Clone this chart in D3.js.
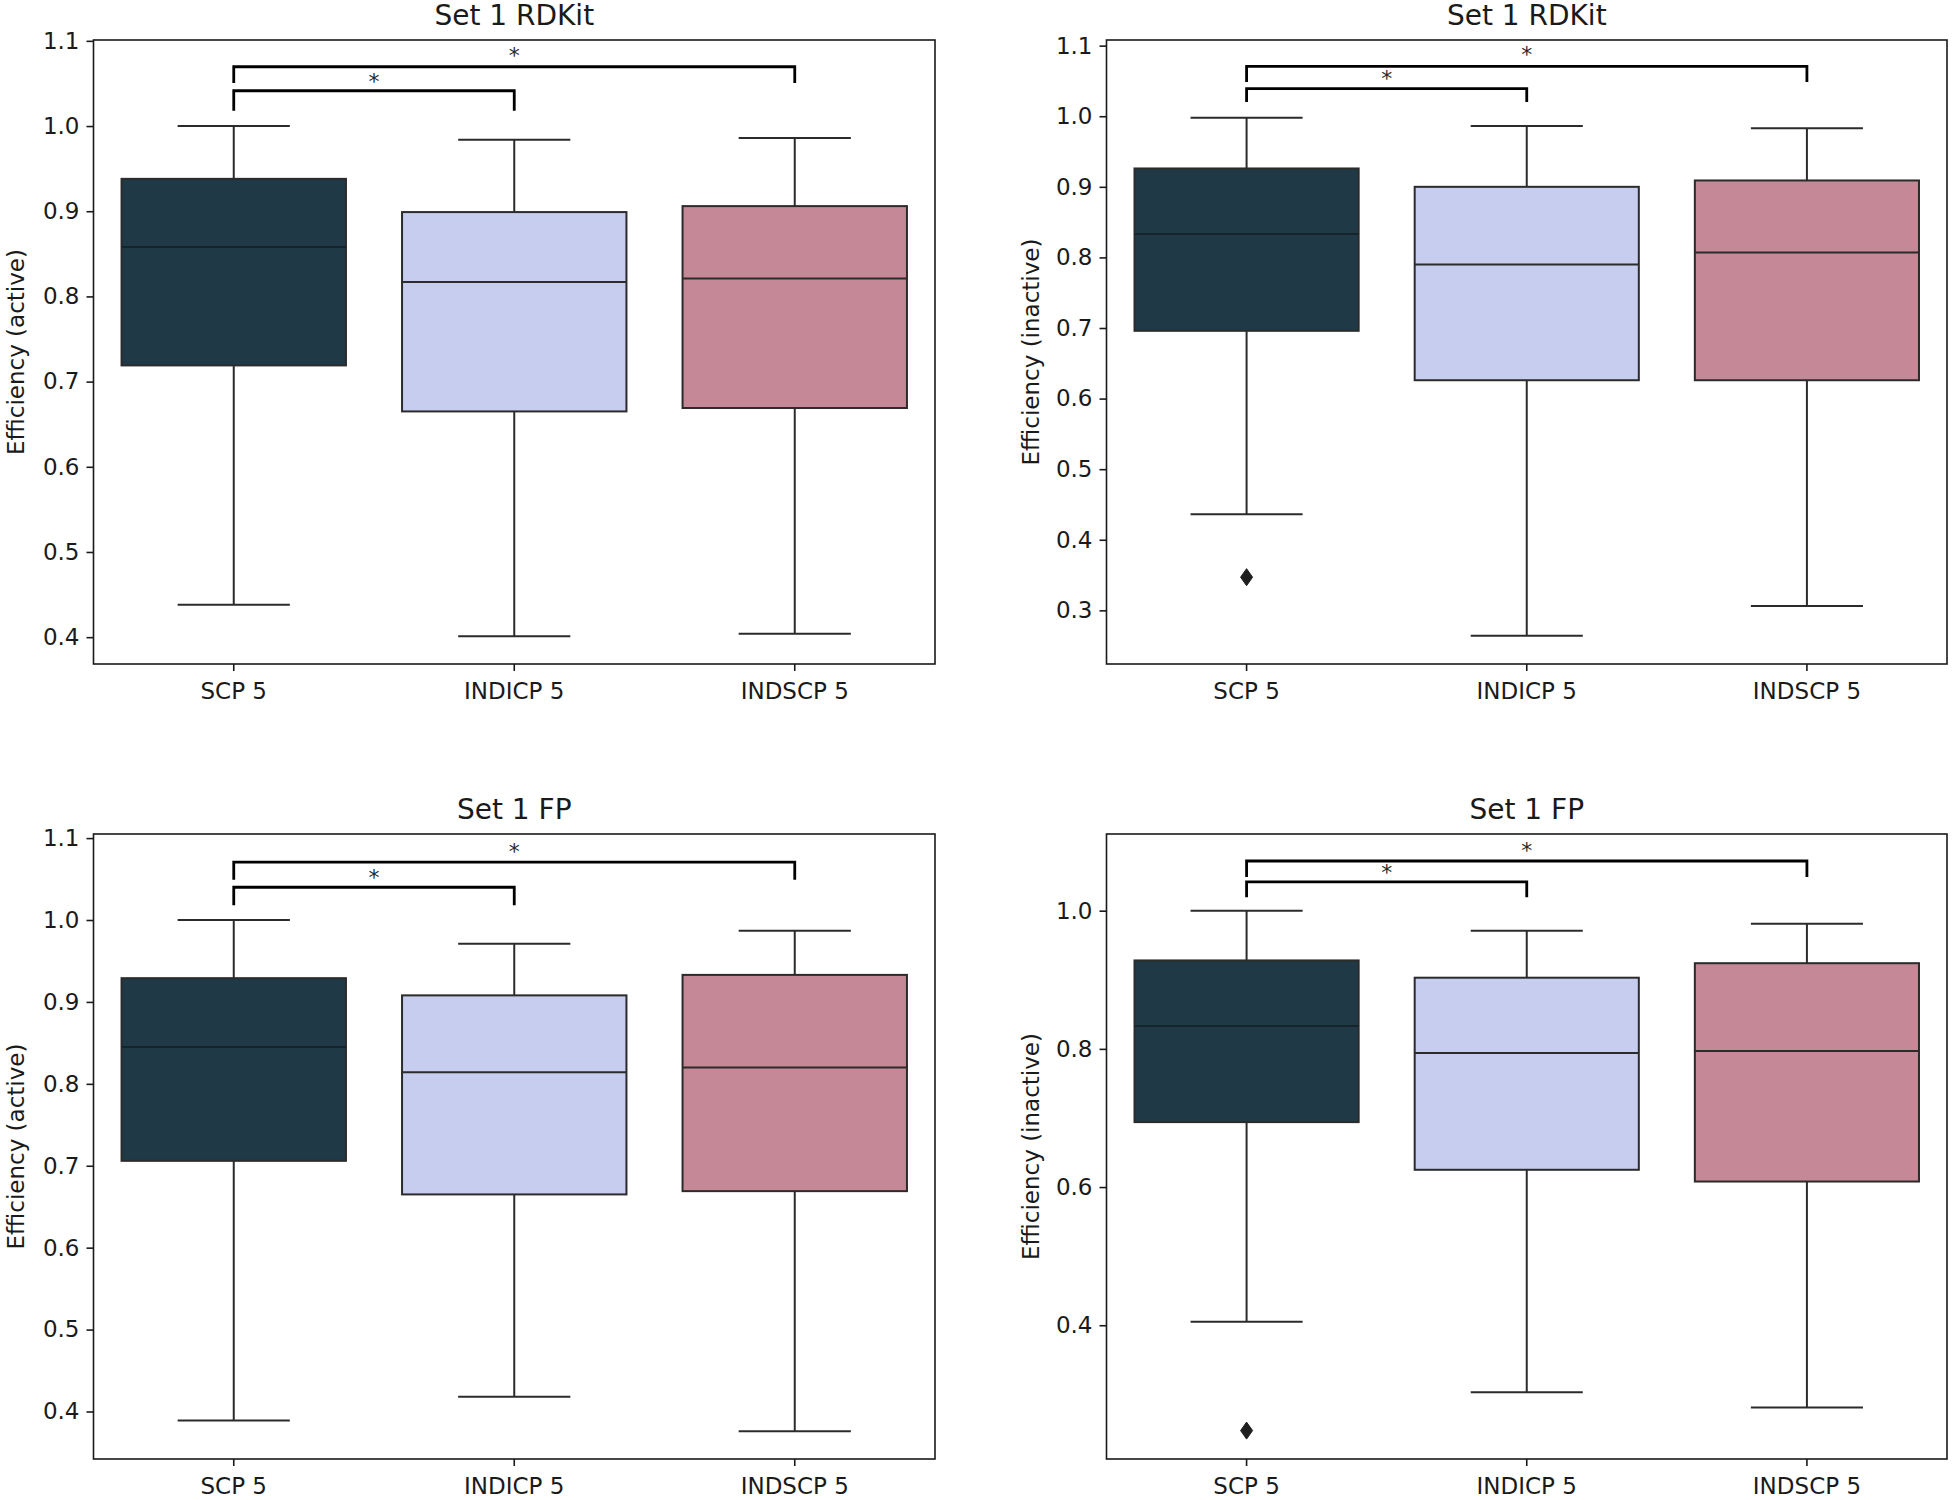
<!DOCTYPE html>
<html>
<head>
<meta charset="utf-8">
<script src="https://cdn.jsdelivr.net/npm/d3@7"></script>
<style>
  html, body { margin: 0; padding: 0; background: #ffffff; }
  svg { display: block; }
  text { font-family: "DejaVu Sans", sans-serif; fill: #1a1a1a; }
</style>
</head>
<body>
<svg id="chart" width="1953" height="1500"></svg>
<script>
// ---------------- DATA ----------------
const categories = ["SCP 5", "INDICP 5", "INDSCP 5"];
const boxColors = ["#1f3a46", "#c7cdee", "#c58896"];

const panelTitles = ["Set 1 RDKit", "Set 1 RDKit", "Set 1 FP", "Set 1 FP"];
const panelYLabels = ["Efficiency (active)", "Efficiency (inactive)", "Efficiency (active)", "Efficiency (inactive)"];

// [lower whisker, Q1, median, Q3, upper whisker] per category
const rdkitActive   = [[0.438, 0.719, 0.858, 0.938, 1.000], [0.401, 0.665, 0.817, 0.899, 0.984], [0.404, 0.669, 0.821, 0.906, 0.986]];
const rdkitInactive = [[0.436, 0.696, 0.833, 0.926, 0.998], [0.264, 0.626, 0.790, 0.900, 0.986], [0.306, 0.626, 0.807, 0.909, 0.983]];
const fpActive      = [[0.389, 0.706, 0.845, 0.929, 1.000], [0.418, 0.665, 0.814, 0.908, 0.971], [0.376, 0.669, 0.820, 0.933, 0.987]];
const fpInactive    = [[0.405, 0.694, 0.833, 0.928, 1.000], [0.303, 0.625, 0.794, 0.903, 0.971], [0.281, 0.608, 0.797, 0.924, 0.981]];

// outliers per category
const rdkitActiveOutliers   = [[], [], []];
const rdkitInactiveOutliers = [[0.347], [], []];
const fpActiveOutliers      = [[], [], []];
const fpInactiveOutliers    = [[0.2475], [], []];

// y-axis domains and ticks
const yDomains = [[0.3685, 1.101], [0.224, 1.108], [0.342, 1.105], [0.2064, 1.111]];
const ticksRdkitActive   = [0.4, 0.5, 0.6, 0.7, 0.8, 0.9, 1.0, 1.1];
const ticksRdkitInactive = [0.3, 0.4, 0.5, 0.6, 0.7, 0.8, 0.9, 1.0, 1.1];
const ticksFpActive      = [0.4, 0.5, 0.6, 0.7, 0.8, 0.9, 1.0, 1.1];
const ticksFpInactive    = [0.4, 0.6, 0.8, 1.0];

// significance brackets: [from category, to category, line value, leg bottom value, label value, label]
const bracketsRdkitActive   = [[0, 1, 1.0414, 1.018, 1.0587, "*"], [0, 2, 1.0696, 1.0505, 1.089, "*"]];
const bracketsRdkitInactive = [[0, 1, 1.039, 1.020, 1.061, "*"], [0, 2, 1.0707, 1.0486, 1.094, "*"]];
const bracketsFpActive      = [[0, 1, 1.040, 1.018, 1.0576, "*"], [0, 2, 1.0707, 1.049, 1.0896, "*"]];
const bracketsFpInactive    = [[0, 1, 1.0416, 1.0194, 1.0622, "*"], [0, 2, 1.0719, 1.0488, 1.0937, "*"]];

// ---------------- LAYOUT ----------------
const panels = [
  { stats: rdkitActive,   out: rdkitActiveOutliers,   ticks: ticksRdkitActive,   br: bracketsRdkitActive,   x0: 93.5,   x1: 935,  y0: 40,  y1: 664,  labX: 24 },
  { stats: rdkitInactive, out: rdkitInactiveOutliers, ticks: ticksRdkitInactive, br: bracketsRdkitInactive, x0: 1106.5, x1: 1947, y0: 40,  y1: 664,  labX: 1039 },
  { stats: fpActive,      out: fpActiveOutliers,      ticks: ticksFpActive,      br: bracketsFpActive,      x0: 93.5,   x1: 935,  y0: 834, y1: 1459, labX: 24 },
  { stats: fpInactive,    out: fpInactiveOutliers,    ticks: ticksFpInactive,    br: bracketsFpInactive,    x0: 1106.5, x1: 1947, y0: 834, y1: 1459, labX: 1039 }
];

const svg = d3.select("#chart");
svg.append("rect").attr("width", 1953).attr("height", 1500).attr("fill", "#ffffff");

const lineColor = "#2b2b2b";
const tickFont = 23;

panels.forEach((p, i) => {
  const x = d3.scaleBand().domain(categories).range([p.x0, p.x1]).padding(0);
  const y = d3.scaleLinear().domain(yDomains[i]).range([p.y1, p.y0]);
  const bw = x.bandwidth();
  const g = svg.append("g");

  // boxes
  categories.forEach((c, k) => {
    const [lo, q1, med, q3, hi] = p.stats[k];
    const cx = x(c) + bw / 2;
    const boxW = bw * 0.8, capW = bw * 0.4;
    // whiskers
    g.append("line").attr("x1", cx).attr("x2", cx).attr("y1", y(q3)).attr("y2", y(hi))
      .attr("stroke", lineColor).attr("stroke-width", 2);
    g.append("line").attr("x1", cx).attr("x2", cx).attr("y1", y(q1)).attr("y2", y(lo))
      .attr("stroke", lineColor).attr("stroke-width", 2);
    g.append("line").attr("x1", cx - capW / 2).attr("x2", cx + capW / 2).attr("y1", y(hi)).attr("y2", y(hi))
      .attr("stroke", lineColor).attr("stroke-width", 2);
    g.append("line").attr("x1", cx - capW / 2).attr("x2", cx + capW / 2).attr("y1", y(lo)).attr("y2", y(lo))
      .attr("stroke", lineColor).attr("stroke-width", 2);
    // box
    g.append("rect").attr("x", cx - boxW / 2).attr("y", y(q3)).attr("width", boxW).attr("height", y(q1) - y(q3))
      .attr("fill", boxColors[k]).attr("stroke", lineColor).attr("stroke-width", 2);
    // median
    g.append("line").attr("x1", cx - boxW / 2).attr("x2", cx + boxW / 2).attr("y1", y(med)).attr("y2", y(med))
      .attr("stroke", k === 0 ? "#15232a" : lineColor).attr("stroke-width", 2);
    // outliers (thin diamond)
    p.out[k].forEach(v => {
      const yy = y(v);
      g.append("path")
        .attr("d", `M${cx},${yy - 8.5} L${cx + 6},${yy} L${cx},${yy + 8.5} L${cx - 6},${yy} Z`)
        .attr("fill", "#1e1e1e").attr("stroke", "#1e1e1e").attr("stroke-width", 1);
    });
  });

  // brackets
  p.br.forEach(([a, b, lv, legv, sv, lab]) => {
    const xa = x(categories[a]) + bw / 2;
    const xb = x(categories[b]) + bw / 2;
    g.append("path")
      .attr("d", `M${xa},${y(legv)} L${xa},${y(lv)} L${xb},${y(lv)} L${xb},${y(legv)}`)
      .attr("fill", "none").attr("stroke", "#000").attr("stroke-width", 2.8);
    g.append("text").attr("x", (xa + xb) / 2).attr("y", y(sv) + 0.57 * 22)
      .attr("text-anchor", "middle").style("font-size", "22px").style("fill", "#2a2a2a")
      .text(lab);
  });

  // axes
  const yAxis = d3.axisLeft(y).tickValues(p.ticks).tickFormat(d3.format(".1f")).tickSize(7).tickPadding(7);
  const ya = svg.append("g").attr("transform", `translate(${p.x0},0)`).call(yAxis);
  ya.select(".domain").remove();
  ya.selectAll(".tick line").attr("stroke", "#1a1a1a").attr("stroke-width", 1.6);
  ya.selectAll(".tick text").style("font-size", tickFont + "px").style("font-family", "DejaVu Sans").attr("fill", "#1a1a1a");

  const xAxis = d3.axisBottom(x).tickSize(7).tickPadding(12);
  const xa = svg.append("g").attr("transform", `translate(0,${p.y1})`).call(xAxis);
  xa.select(".domain").remove();
  xa.selectAll(".tick line").attr("stroke", "#1a1a1a").attr("stroke-width", 1.6);
  xa.selectAll(".tick text").style("font-size", tickFont + "px").style("font-family", "DejaVu Sans").attr("fill", "#1a1a1a");

  // frame
  svg.append("rect").attr("x", p.x0).attr("y", p.y0).attr("width", p.x1 - p.x0).attr("height", p.y1 - p.y0)
    .attr("fill", "none").attr("stroke", "#1a1a1a").attr("stroke-width", 1.6);

  // title
  svg.append("text").attr("x", (p.x0 + p.x1) / 2).attr("y", p.y0 - 15.5)
    .attr("text-anchor", "middle").style("font-size", "28px").text(panelTitles[i]);

  // y label
  const cy = (p.y0 + p.y1) / 2;
  svg.append("text").attr("transform", `translate(${p.labX},${cy}) rotate(-90)`)
    .attr("text-anchor", "middle").style("font-size", tickFont + "px").text(panelYLabels[i]);
});
</script>
</body>
</html>
